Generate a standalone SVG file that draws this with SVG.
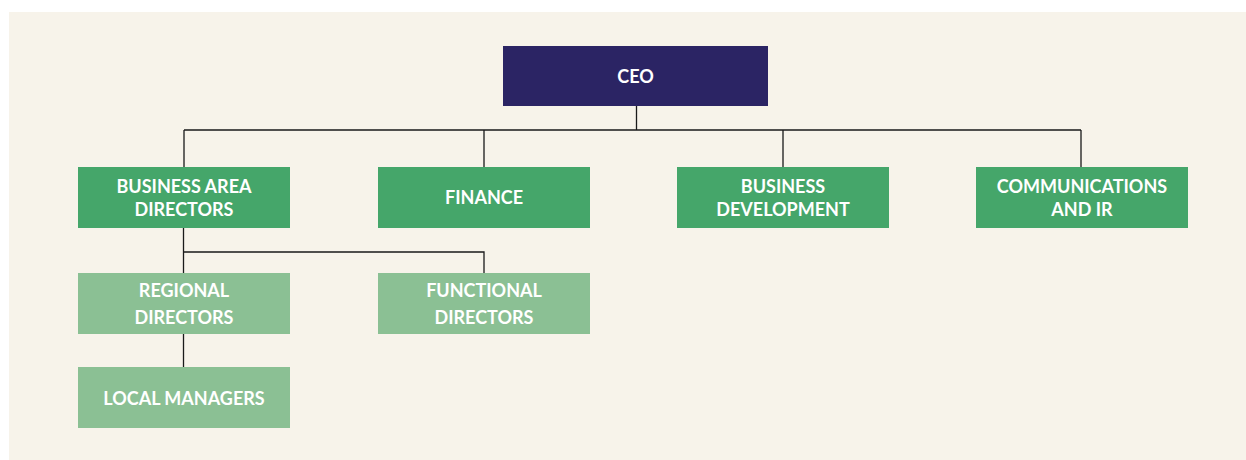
<svg xmlns="http://www.w3.org/2000/svg" width="1246" height="460" viewBox="0 0 1246 460">
<style>
.t{font-family:Lato,"Liberation Sans",sans-serif;font-weight:bold;font-size:18px;fill:#fff;text-anchor:middle}
.ceo{fill:#2b2464}
.g{fill:#45a66a}
.lg{fill:#8bc094}
.c{fill:none;stroke:#1a1a1a;stroke-width:1.3}
</style>
<rect width="1246" height="460" fill="#ffffff"/>
<rect x="9" y="12" width="1237" height="448" fill="#f7f3ea"/>
<g id="connectors">
<path class="c" d="M636.5 106V130M184 130H1081M184 130V167M484 130V167M783 130V167M1081 130V167"/>
<path class="c" d="M183.5 228V273M183.5 252H484V273M183.5 333V367"/>
</g>
<g id="ceo"><rect class="ceo" x="503" y="46" width="265" height="60"/><text class="t" x="635.5" y="82.5">CEO</text></g>
<g id="business-area-directors"><rect class="g" x="78" y="167" width="212" height="61"/><text class="t" x="184" y="192.5">BUSINESS AREA</text><text class="t" x="184" y="216">DIRECTORS</text></g>
<g id="finance"><rect class="g" x="378" y="167" width="212" height="61"/><text class="t" x="484" y="204">FINANCE</text></g>
<g id="business-development"><rect class="g" x="677" y="167" width="212" height="61"/><text class="t" x="783" y="192.5">BUSINESS</text><text class="t" x="783" y="216">DEVELOPMENT</text></g>
<g id="communications-ir"><rect class="g" x="976" y="167" width="212" height="61"/><text class="t" x="1082" y="192.5">COMMUNICATIONS</text><text class="t" x="1082" y="216">AND IR</text></g>
<g id="regional-directors"><rect class="lg" x="78" y="273" width="212" height="61"/><text class="t" x="184" y="297">REGIONAL</text><text class="t" x="184" y="324">DIRECTORS</text></g>
<g id="functional-directors"><rect class="lg" x="378" y="273" width="212" height="61"/><text class="t" x="484" y="297">FUNCTIONAL</text><text class="t" x="484" y="324">DIRECTORS</text></g>
<g id="local-managers"><rect class="lg" x="78" y="367" width="212" height="61"/><text class="t" x="184" y="405">LOCAL MANAGERS</text></g>
</svg>
